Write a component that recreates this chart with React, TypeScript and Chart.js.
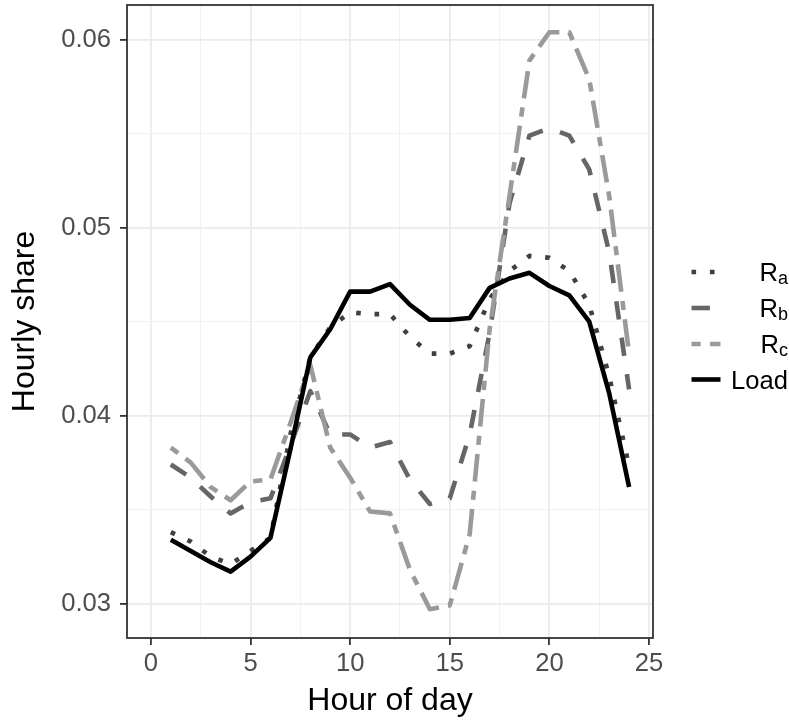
import React, { useEffect, useRef } from "react";
import { Chart, registerables } from "chart.js";

Chart.register(...registerables);

// ---- data ----
const hours = [1, 2, 3, 4, 5, 6, 7, 8, 9, 10, 11, 12, 13, 14, 15, 16, 17, 18, 19, 20, 21, 22, 23, 24];
const ra = [0.0338, 0.0333, 0.0325, 0.0321, 0.0328, 0.0335, 0.0390, 0.0431, 0.0447, 0.0455, 0.0454, 0.0454, 0.0442, 0.0433, 0.0433, 0.0437, 0.0462, 0.0477, 0.0485, 0.0484, 0.0477, 0.0459, 0.0421, 0.0373];
const rb = [0.0374, 0.0367, 0.0357, 0.0348, 0.0354, 0.0356, 0.0384, 0.0413, 0.0390, 0.0390, 0.0383, 0.0386, 0.0366, 0.0353, 0.0356, 0.0390, 0.0444, 0.0513, 0.0549, 0.0553, 0.0549, 0.0531, 0.0487, 0.0414];
const rc = [0.0383, 0.0375, 0.0362, 0.0355, 0.0365, 0.0366, 0.0396, 0.0427, 0.0383, 0.0367, 0.0349, 0.0348, 0.0318, 0.0297, 0.0299, 0.0337, 0.0446, 0.0517, 0.0589, 0.0604, 0.0604, 0.0579, 0.0517, 0.0433];
const load = [0.0334, 0.0328, 0.0322, 0.0317, 0.0325, 0.0335, 0.0382, 0.0431, 0.0446, 0.0466, 0.0466, 0.0470, 0.0459, 0.0451, 0.0451, 0.0452, 0.0468, 0.0473, 0.0476, 0.0469, 0.0464, 0.0450, 0.0412, 0.0362];

const seriesMain = ["R", "R", "R", "Load"];
const seriesSub = ["a", "b", "c", ""];

const xTicks = [0, 2.5, 5, 7.5, 10, 12.5, 15, 17.5, 20, 22.5, 25];
const xTickLabels = ["0", "", "5", "", "10", "", "15", "", "20", "", "25"];
const yTicks = [0.03, 0.035, 0.04, 0.045, 0.05, 0.055, 0.06];
const yTickLabels = ["0.03", "", "0.04", "", "0.05", "", "0.06"];

const FONT = "'Liberation Sans', Arial, Helvetica, sans-serif";
const LW = 4.6;

const toPts = (vals: number[]) => hours.map((h, i) => ({ x: h, y: vals[i] }));

const isMajor = (arr: number[], labels: string[], v: number) => {
  const i = arr.findIndex((a) => Math.abs(a - v) < 1e-9);
  return i >= 0 && labels[i] !== "";
};

const panelBorder = {
  id: "panelBorder",
  afterDatasetsDraw(chart: any) {
    const { ctx, chartArea } = chart;
    ctx.save();
    ctx.strokeStyle = "#333333";
    ctx.lineWidth = 1.8;
    ctx.setLineDash([]);
    ctx.strokeRect(chartArea.left, chartArea.top, chartArea.right - chartArea.left, chartArea.bottom - chartArea.top);
    ctx.restore();
  },
};

const customLegend = {
  id: "customLegend",
  afterDraw(chart: any) {
    const { ctx } = chart;
    const ys = [272, 308, 344, 379.5];
    ctx.save();
    chart.data.datasets.forEach((ds: any, i: number) => {
      const y = ys[i];
      ctx.beginPath();
      ctx.setLineDash(ds.borderDash || []);
      ctx.lineDashOffset = 0;
      ctx.lineCap = "butt";
      ctx.lineWidth = ds.borderWidth;
      ctx.strokeStyle = ds.borderColor;
      ctx.moveTo(691.5, y);
      ctx.lineTo(720.5, y);
      ctx.stroke();

      ctx.setLineDash([]);
      ctx.fillStyle = "#000000";
      ctx.textBaseline = "alphabetic";
      ctx.textAlign = "left";
      const mainFont = `25.6px ${FONT}`;
      const subFont = `18px ${FONT}`;
      ctx.font = mainFont;
      const mw = ctx.measureText(seriesMain[i]).width;
      ctx.font = subFont;
      const sw = seriesSub[i] ? ctx.measureText(seriesSub[i]).width : 0;
      const x0 = 788 - mw - sw;
      ctx.font = mainFont;
      ctx.fillText(seriesMain[i], x0, y + 9);
      if (seriesSub[i]) {
        ctx.font = subFont;
        ctx.fillText(seriesSub[i], x0 + mw, y + 12);
      }
    });
    ctx.restore();
  },
};

export default function App() {
  const ref = useRef<HTMLCanvasElement | null>(null);

  useEffect(() => {
    if (!ref.current) return;
    const gridColor = (arr: number[], labels: string[]) => (ctx: any) =>
      isMajor(arr, labels, ctx.tick?.value) ? "#ebebeb" : "#f2f2f2";
    const gridWidth = (arr: number[], labels: string[]) => (ctx: any) =>
      isMajor(arr, labels, ctx.tick?.value) ? 1.8 : 1.1;
    const tickColor = (arr: number[], labels: string[]) => (ctx: any) =>
      isMajor(arr, labels, ctx.tick?.value) ? "#333333" : "rgba(0,0,0,0)";

    const chart = new Chart(ref.current, {
      type: "line",
      data: {
        datasets: [
          { label: "Ra", data: toPts(ra), borderColor: "#404040", borderWidth: LW, borderDash: [LW, 3 * LW], order: 4 },
          { label: "Rb", data: toPts(rb), borderColor: "#666666", borderWidth: LW, borderDash: [4 * LW, 4 * LW], order: 3 },
          { label: "Rc", data: toPts(rc), borderColor: "#9a9a9a", borderWidth: LW, borderDash: [2 * LW, 2 * LW, 6 * LW, 2 * LW], order: 2 },
          { label: "Load", data: toPts(load), borderColor: "#000000", borderWidth: LW, borderDash: [], order: 1 },
        ].map((d) => ({
          ...d,
          pointRadius: 0,
          pointHoverRadius: 0,
          fill: false,
          tension: 0,
          borderCapStyle: "butt",
          borderJoinStyle: "round",
        })) as any,
      },
      options: {
        responsive: false,
        animation: false,
        events: [],
        layout: { padding: { top: 5, right: 136, left: 0, bottom: 0 } },
        plugins: { legend: { display: false }, tooltip: { enabled: false } },
        scales: {
          x: {
            type: "linear",
            min: -1.2,
            max: 25.2,
            afterBuildTicks: (scale: any) => {
              scale.ticks = xTicks.map((v) => ({ value: v }));
            },
            afterFit: (scale: any) => {
              scale.height = 84;
              scale.paddingLeft = 0;
              scale.paddingRight = 0;
            },
            border: { display: false },
            grid: {
              color: gridColor(xTicks, xTickLabels),
              lineWidth: gridWidth(xTicks, xTickLabels),
              tickColor: tickColor(xTicks, xTickLabels),
              tickWidth: 1.8,
              tickLength: 7,
              drawTicks: true,
            },
            ticks: {
              autoSkip: false,
              maxRotation: 0,
              padding: 4,
              color: "#4d4d4d",
              font: { family: FONT, size: 25.6 },
              callback: (v: any) => {
                const i = xTicks.findIndex((a) => Math.abs(a - v) < 1e-9);
                return i >= 0 ? xTickLabels[i] : "";
              },
            },
            title: {
              display: true,
              text: "Hour of day",
              color: "#000000",
              font: { family: FONT, size: 32 },
              padding: { top: 0, bottom: 2 },
            },
          },
          y: {
            type: "linear",
            min: 0.02817,
            max: 0.06185,
            afterBuildTicks: (scale: any) => {
              scale.ticks = yTicks.map((v) => ({ value: v }));
            },
            afterFit: (scale: any) => {
              scale.width = 127;
              scale.paddingTop = 0;
              scale.paddingBottom = 0;
            },
            border: { display: false },
            grid: {
              color: gridColor(yTicks, yTickLabels),
              lineWidth: gridWidth(yTicks, yTickLabels),
              tickColor: tickColor(yTicks, yTickLabels),
              tickWidth: 1.8,
              tickLength: 7,
              drawTicks: true,
            },
            ticks: {
              autoSkip: false,
              padding: 9,
              color: "#4d4d4d",
              font: { family: FONT, size: 25.6 },
              callback: (v: any) => {
                const i = yTicks.findIndex((a) => Math.abs(a - v) < 1e-9);
                return i >= 0 ? yTickLabels[i] : "";
              },
            },
            title: {
              display: true,
              text: "Hourly share",
              color: "#000000",
              font: { family: FONT, size: 32 },
              padding: { top: 6, bottom: 0 },
            },
          },
        },
      },
      plugins: [panelBorder, customLegend],
    });
    return () => chart.destroy();
  }, []);

  return (
    <div style={{ position: "fixed", left: 0, top: 0, width: 789, height: 722, background: "#ffffff" }}>
      <canvas ref={ref} width={789} height={722} style={{ display: "block", width: 789, height: 722 }} />
    </div>
  );
}
